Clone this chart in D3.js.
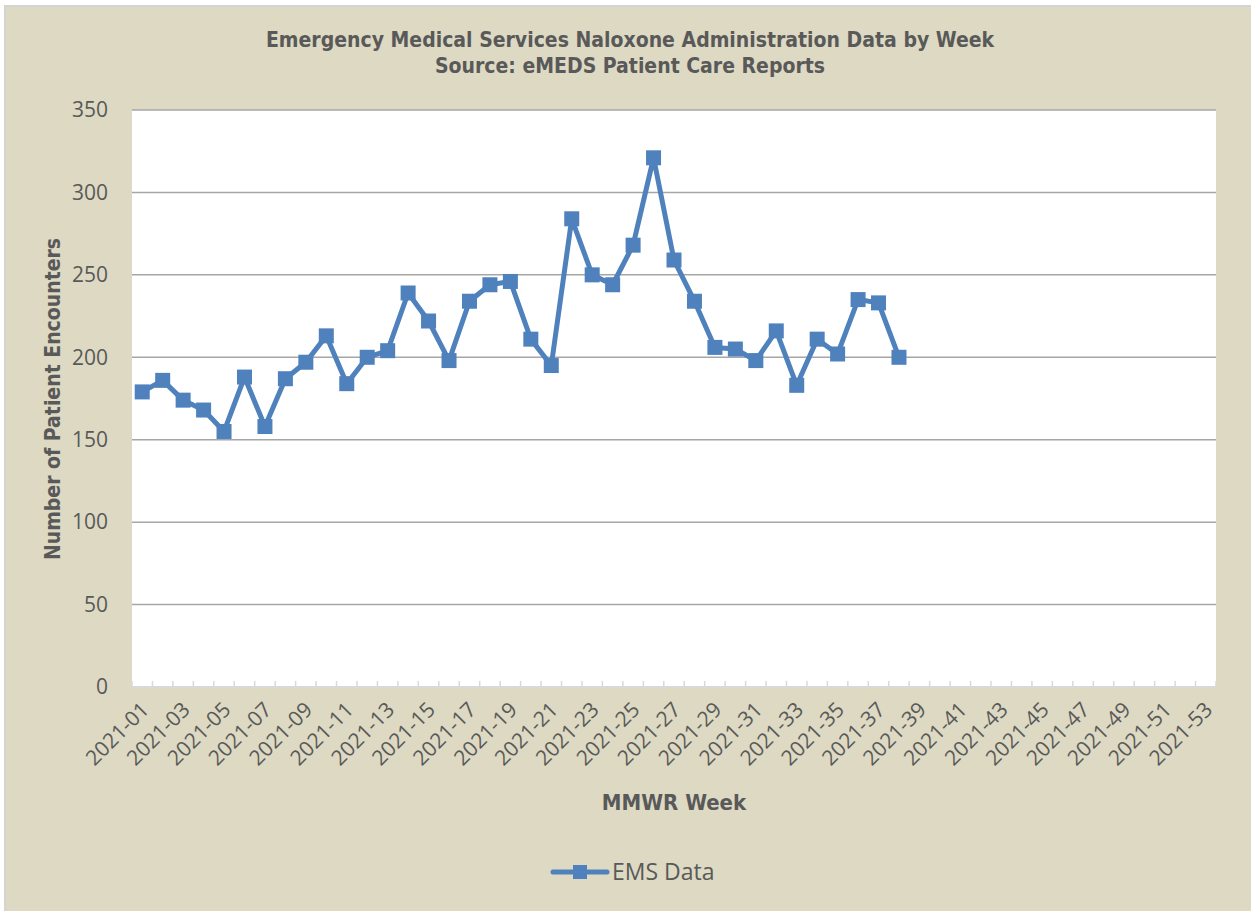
<!DOCTYPE html>
<html>
<head>
<meta charset="utf-8">
<script src="https://cdn.jsdelivr.net/npm/d3@7"></script>
<style>
	body { margin: 0; background: #fff; }
	svg text { fill: #595959; }
</style>
</head>
<body>
<div id="chart"></div>
<script>
"use strict";

// weeks 2021-01 .. 2021-53
var weeks = [];
for (var w = 1; w <= 53; w++) {
	weeks.push("2021-" + (w < 10 ? "0" + w : "" + w));
}

// EMS naloxone encounters, weeks 1..38 (rest not reported yet)
var emsData = [179, 186, 174, 168, 155, 188, 158, 187, 197, 213,
	184, 200, 204, 239, 222, 198, 234, 244, 246, 211,
	195, 284, 250, 244, 268, 321, 259, 234, 206, 205,
	198, 216, 183, 211, 202, 235, 233, 200];

var yTicks = [0, 50, 100, 150, 200, 250, 300, 350];

var titleLines = ["Emergency Medical Services Naloxone Administration Data by Week",
	"Source: eMEDS Patient Care Reports"];

var width = 1251, height = 911;
var plot = {left: 132, right: 1216, top: 110, bottom: 687};
var boldFont = "'DejaVu Sans Condensed', 'DejaVu Sans', sans-serif";

var svg = d3.select("#chart").append("svg")
	.attr("width", width)
	.attr("height", height);

svg.append("rect")
	.attr("x", 5).attr("y", 6)
	.attr("width", width).attr("height", height)
	.attr("fill", "#ddd9c3")
	.attr("stroke", "#d4d4d4")
	.attr("stroke-width", 2);

svg.append("rect")
	.attr("x", plot.left).attr("y", plot.top)
	.attr("width", plot.right - plot.left).attr("height", plot.bottom - plot.top)
	.attr("fill", "#fff");

var x = d3.scaleBand().domain(weeks).range([plot.left, plot.right]);
var y = d3.scaleLinear().domain([0, 350]).range([plot.bottom, plot.top]);

// gridlines
svg.append("g")
	.selectAll("line")
	.data(yTicks.slice(1))
	.join("line")
	.attr("x1", plot.left).attr("x2", plot.right)
	.attr("y1", function(d) { return y(d); })
	.attr("y2", function(d) { return y(d); })
	.attr("stroke", "#a6a6a6")
	.attr("stroke-width", 1.5);

// y tick labels
svg.append("g")
	.selectAll("text")
	.data(yTicks)
	.join("text")
	.attr("x", 108)
	.attr("y", function(d) { return y(d); })
	.attr("dy", "0.35em")
	.attr("text-anchor", "end")
	.style("font-family", "'Open Sans', sans-serif")
	.style("font-size", "21px")
	.text(function(d) { return d; });

// x axis: ticks between categories
var xAxis = svg.append("g");
xAxis.append("line")
	.attr("x1", plot.left).attr("x2", plot.right)
	.attr("y1", plot.bottom).attr("y2", plot.bottom)
	.attr("stroke", "#d9d9d9")
	.attr("stroke-width", 2);
xAxis.selectAll("line.tick")
	.data(weeks.concat(["end"]))
	.join("line")
	.attr("class", "tick")
	.attr("x1", function(d, i) { return plot.left + i * x.step(); })
	.attr("x2", function(d, i) { return plot.left + i * x.step(); })
	.attr("y1", plot.bottom - 6)
	.attr("y2", plot.bottom)
	.attr("stroke", "#d9d9d9")
	.attr("stroke-width", 1.5);

xAxis.selectAll("text")
	.data(weeks.filter(function(d, i) { return i % 2 === 0; }))
	.join("text")
	.attr("text-anchor", "end")
	.attr("transform", function(d) {
		return "translate(" + (x(d) + x.bandwidth() / 2 + 8) + "," + (plot.bottom + 24) + ") rotate(-45)";
	})
	.style("font-family", "'Open Sans', sans-serif")
	.style("font-size", "21px")
	.text(function(d) { return d; });

// title
svg.append("text")
	.attr("text-anchor", "middle")
	.style("font-family", boldFont)
	.style("font-weight", "bold")
	.style("font-size", "21px")
	.selectAll("tspan")
	.data(titleLines)
	.join("tspan")
	.attr("x", 630)
	.attr("y", function(d, i) { return 47 + i * 26; })
	.text(function(d) { return d; });

// axis titles
svg.append("text")
	.attr("transform", "translate(60," + 399 + ") rotate(-90)")
	.attr("text-anchor", "middle")
	.style("font-family", boldFont)
	.style("font-weight", "bold")
	.style("font-size", "21px")
	.text("Number of Patient Encounters");

svg.append("text")
	.attr("x", 674).attr("y", 810)
	.attr("text-anchor", "middle")
	.style("font-family", boldFont)
	.style("font-weight", "bold")
	.style("font-size", "22px")
	.text("MMWR Week");

// series
var pts = emsData.map(function(v, i) { return {week: weeks[i], value: v}; });
var line = d3.line()
	.x(function(d) { return x(d.week) + x.bandwidth() / 2; })
	.y(function(d) { return y(d.value); });

svg.append("path")
	.datum(pts)
	.attr("d", line)
	.attr("fill", "none")
	.attr("stroke", "#4f81bd")
	.attr("stroke-width", 5)
	.attr("stroke-linejoin", "round");

svg.append("g")
	.selectAll("rect")
	.data(pts)
	.join("rect")
	.attr("x", function(d) { return x(d.week) + x.bandwidth() / 2 - 7.5; })
	.attr("y", function(d) { return y(d.value) - 7.5; })
	.attr("width", 15).attr("height", 15)
	.attr("fill", "#4f81bd");

// legend
var lg = svg.append("g").attr("transform", "translate(553,872)");
lg.append("line")
	.attr("x1", 0).attr("x2", 54)
	.attr("stroke", "#4f81bd").attr("stroke-width", 5)
	.attr("stroke-linecap", "round");
lg.append("rect")
	.attr("x", 20).attr("y", -7).attr("width", 14).attr("height", 14)
	.attr("fill", "#4f81bd");
lg.append("text")
	.attr("x", 59).attr("dy", "0.35em")
	.style("font-family", "'Open Sans', sans-serif")
	.style("font-size", "23px")
	.text("EMS Data");
</script>
</body>
</html>
